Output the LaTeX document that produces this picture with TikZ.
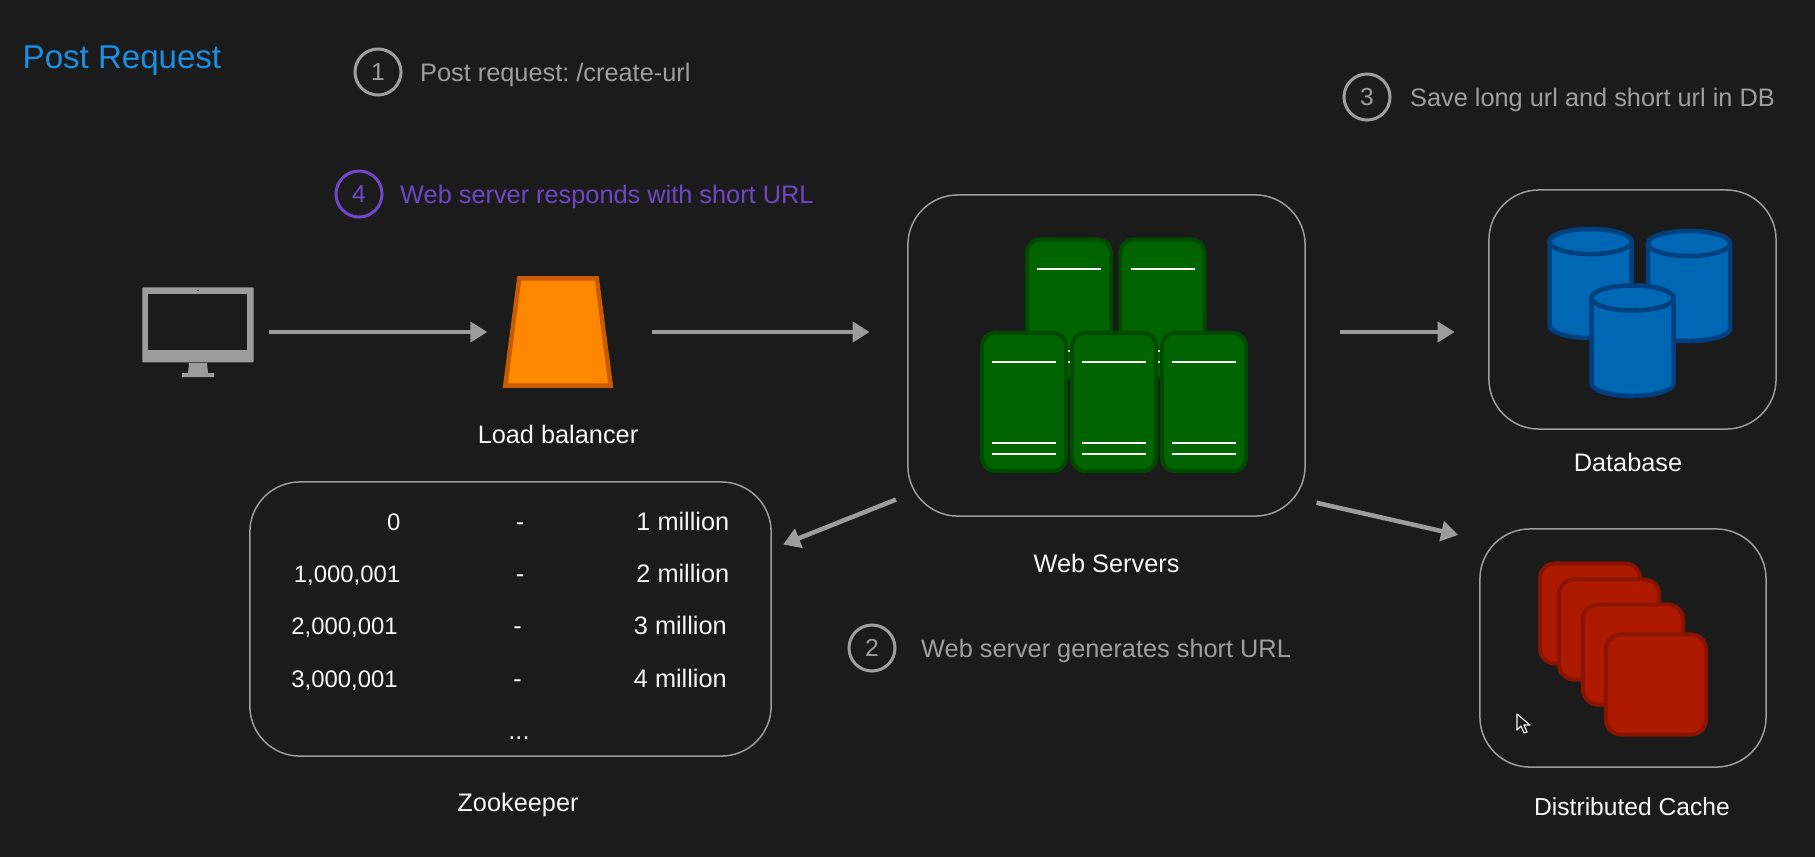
\documentclass[tikz,border=0pt]{standalone}
\usepackage{fontspec}
\setmainfont{Liberation Sans}
\usepackage{xcolor}
\definecolor{bgDark}{HTML}{1B1B1B}
\definecolor{lineGrey}{HTML}{9C9C9C}
\definecolor{noteGrey}{HTML}{9E9E9E}
\definecolor{textWhite}{HTML}{F6F6F6}
\definecolor{titleBlue}{HTML}{1A8FE3}
\definecolor{notePurple}{HTML}{6F46C8}
\definecolor{lbFill}{HTML}{FF8800}
\definecolor{lbDraw}{HTML}{C85A00}
\definecolor{srvFill}{HTML}{006400}
\definecolor{srvDraw}{HTML}{004A00}
\definecolor{dbFill}{HTML}{0067B5}
\definecolor{dbDraw}{HTML}{00407F}
\definecolor{memFill}{HTML}{AD1A00}
\definecolor{memDraw}{HTML}{8A1400}
\usetikzlibrary{arrows.meta,positioning,calc}

\begin{document}
\frenchspacing
\begin{tikzpicture}[
			x=0.01cm, y=-0.01cm,
			txt/.style={inner sep=0pt, text height=0.18cm, text depth=0cm,
				font=\fontsize{7.2pt}{9pt}\selectfont},
			caption/.style={txt, text=textWhite},
			note/.style={txt, text=noteGrey},
			badge/.style={circle, draw=noteGrey, line width=0.03cm, minimum size=0.46cm,
				inner sep=0pt, text=noteGrey, font=\fontsize{7pt}{9pt}\selectfont},
			box/.style={rectangle, rounded corners=0.5cm, draw=lineGrey, line width=0.015cm},
			arrow/.style={-{Triangle[length=0.17cm,width=0.2cm]}, line width=0.045cm, lineGrey},
			srv/.style={rectangle, rounded corners=0.13cm, draw=srvDraw, fill=srvFill,
				line width=0.04cm, minimum width=0.84cm, minimum height=1.38cm, inner sep=0pt},
			srvline/.style={textWhite, line width=0.025cm},
			cyl/.style={draw=dbDraw, fill=dbFill, line width=0.045cm},
			mem/.style={rectangle, rounded corners=0.15cm, draw=memDraw, fill=memFill,
				line width=0.04cm, minimum size=1.0cm, inner sep=0pt}
			]
			\path[use as bounding box, fill=bgDark] (0,0) rectangle (1815,857);

			% boxes
			\node[box, minimum width=3.97cm, minimum height=3.21cm] (web) at (1106.5,355.5) {};
			\node[box, minimum width=2.87cm, minimum height=2.39cm] (db) at (1632.5,309.5) {};
			\node[box, minimum width=2.86cm, minimum height=2.38cm] (cache) at (1623,648) {};
			\node[box, minimum width=5.21cm, minimum height=2.74cm] (zoo) at (510.5,619) {};

			% client
			\node[inner sep=0pt, minimum width=1.1cm, minimum height=0.9cm] (client) at (198,332) {};
			\fill[lineGrey, rounded corners=0.01cm] ($(client.north west)+(0,1)$) rectangle ($(client.north east)+(0,76)$);
			\fill[bgDark] ($(client.north west)+(6,8)$) rectangle ($(client.north east)+(-7,64)$);
			\fill[bgDark] ($(client.north)+(0,4)$) circle (0.01cm);
			\fill[lineGrey] (189,363) -- (207,363) -- (208,373) -- (214,373) -- (214,377) -- (182,377) -- (182,373) -- (188,373) -- cycle;

			% load balancer
			\node[inner sep=0pt, minimum width=1.1cm, minimum height=1.1cm] (lb) at (558,332) {};
			\draw[draw=lbDraw, fill=lbFill, line width=0.045cm] ($(lb.south west)+(3,-2)$) -- ($(lb.north west)+(17,2)$)
				-- ($(lb.north east)+(-17,2)$) -- ($(lb.south east)+(-3,-2)$) -- cycle;

			% web servers
			\foreach \name/\xx in {srvA/1069, srvB/1162.5} {
				\node[srv] (\name) at (\xx,308.5) {};
				\draw[srvline] ($(\name.center)+(-32,-39.5)$) -- ($(\name.center)+(32,-39.5)$);
				\draw[srvline] ($(\name.center)+(-32,42.5)$) -- ($(\name.center)+(32,42.5)$);
				\draw[srvline] ($(\name.center)+(-32,53.5)$) -- ($(\name.center)+(32,53.5)$);
			}
			\foreach \name/\xx in {srvC/1024, srvD/1114, srvE/1204} {
				\node[srv] (\name) at (\xx,402) {};
				\draw[srvline] ($(\name.center)+(-32,-40)$) -- ($(\name.center)+(32,-40)$);
				\draw[srvline] ($(\name.center)+(-32,41)$) -- ($(\name.center)+(32,41)$);
				\draw[srvline] ($(\name.center)+(-32,52)$) -- ($(\name.center)+(32,52)$);
			}

			% database
			\foreach \xx/\yy/\yb in {1590.5/241.5/325.5, 1689/243.5/328.5, 1632.5/298/383.5} {
				\draw[cyl] (\xx-41,\yy) -- (\xx-41,\yb) arc[start angle=180, end angle=360, x radius=0.41cm, y radius=0.125cm]
					-- (\xx+41,\yy) arc[start angle=0, end angle=180, x radius=0.41cm, y radius=0.125cm] -- cycle;
				\draw[cyl] (\xx,\yy) ellipse[x radius=0.41cm, y radius=0.125cm];
			}

			% cache
			\foreach \name/\xx/\yy in {memA/1590/613.5, memB/1609/629.5, memC/1633/654.5, memD/1656/684.5} {
				\node[mem] (\name) at (\xx,\yy) {};
			}

			% captions
			\node[caption, below=0.37cm of lb] (lbText) {Load balancer};
			\node[caption, below=0.37cm of web] (webText) {Web Servers};
			\node[caption, below=0.23cm of db, xshift=-0.045cm] (dbText) {Database};
			\node[caption, below=0.29cm of cache, xshift=0.09cm, font=\fontsize{7pt}{9pt}\selectfont] (cacheText) {Distributed Cache};
			\node[caption, below=0.36cm of zoo, xshift=0.075cm] (zooText) {Zookeeper};

			% zookeeper rows
			\foreach \i/\lo/\hi/\yy/\xo in {1/0/1 million/521/0, 2/{1,000,001}/2 million/573/0, 3/{2,000,001}/3 million/625/-2.5, 4/{3,000,001}/4 million/678/-2.5} {
				\node[caption, anchor=east, font=\fontsize{6.8pt}{9pt}\selectfont] (lo\i) at (401+\xo,\yy) {\lo};
				\node[caption] (dash\i) at (520+\xo,\yy) {-};
				\node[caption, anchor=east] (hi\i) at (730+\xo,\yy) {\hi};
			}
			\node[caption] (more) at (519,730) {...};

			% notes
			\node[txt, anchor=west, text=titleBlue, text height=0.23cm, font=\fontsize{9.4pt}{11pt}\selectfont] (title) at (22,57) {Post Request};
			\node[badge] (one) at (378,72) {1};
			\node[note, right=0.17cm of one] (oneText) {Post request: /create-url};
			\node[badge] (two) at (872,648) {2};
			\node[note, right=0.24cm of two] (twoText) {Web server generates short URL};
			\node[badge] (three) at (1367,97) {3};
			\node[note, right=0.18cm of three] (threeText) {Save long url and short url in DB};
			\node[badge, draw=notePurple, text=notePurple] (four) at (359,194) {4};
			\node[note, text=notePurple, right=0.16cm of four] (fourText) {Web server responds with short URL};

			% arrows
			\draw[arrow, shorten <=0.15cm, shorten >=0.15cm] (client) -- (lb);
			\draw[arrow, shorten <=0.38cm, shorten >=0.375cm] (lb.east) -- (lb.east -| web.west);
			\draw[arrow, shorten <=0.34cm, shorten >=0.335cm] (lb.east -| web.east) -- (lb.east -| db.west);
			\draw[arrow, shorten <=0.12cm, shorten >=0.12cm] (web.215.2) -- (zoo.15.9);
			\draw[arrow, shorten <=0.11cm, shorten >=0.215cm] (web.324.1) -- (cache.143.6);

			% mouse pointer
			\draw[fill=bgDark, draw=textWhite, line width=0.012cm, line join=round] (1517,714) -- (1517,730) -- (1521,726) -- (1524,733) -- (1527,732) -- (1524,725) -- (1530,725) -- cycle;
		\end{tikzpicture}
\end{document}
